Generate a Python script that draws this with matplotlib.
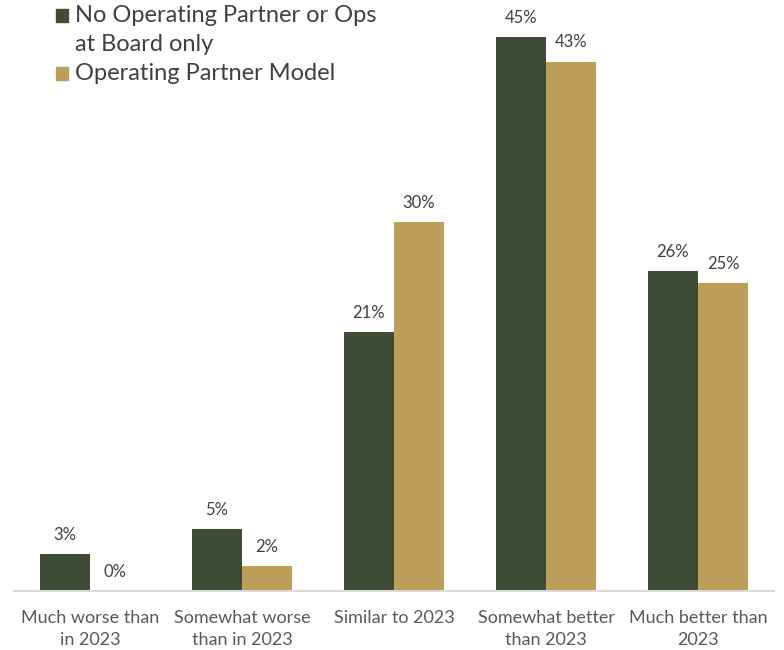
import matplotlib
matplotlib.use("Agg")
import matplotlib.pyplot as plt
from matplotlib.patches import Rectangle
import numpy as np

# ── Data ─────────────────────────────────────────────────────────────────────
categories = [
    "Much worse than\nin 2023",
    "Somewhat worse\nthan in 2023",
    "Similar to 2023",
    "Somewhat better\nthan 2023",
    "Much better than\n2023",
]
no_op_partner = [3, 5, 21, 45, 26]
op_partner = [0, 2, 30, 43, 25]
series_names = ["No Operating Partner or Ops\nat Board only", "Operating Partner Model"]

GREEN = "#3f4c35"
TAN = "#bd9e59"
TEXT = "#404040"
TICK = "#595959"

plt.rcParams["font.family"] = ["Lato", "DejaVu Sans"]

W, H = 784, 650
fig = plt.figure(figsize=(W / 100, H / 100), dpi=100)
ax = fig.add_axes([14 / W, 59 / H, 760 / W, 591 / H])

x = np.arange(len(categories))
w = 0.33
b1 = ax.bar(x - w / 2, no_op_partner, w, color=GREEN)
b2 = ax.bar(x + w / 2, op_partner, w, color=TAN)

for bars, vals in ((b1, no_op_partner), (b2, op_partner)):
    for rect, v in zip(bars, vals):
        ax.annotate(f"{v}%", (rect.get_x() + rect.get_width() / 2, v),
                    xytext=(0, 8), textcoords="offset points",
                    ha="center", va="bottom", fontsize=12, color=TEXT)

ax.set_xlim(-0.5, len(categories) - 0.5)
ax.set_ylim(0, 48)
ax.set_xticks(x)
ax.set_xticklabels(categories, fontsize=13, color=TICK, linespacing=1.45)
ax.tick_params(axis="x", length=0, pad=14)
ax.set_yticks([])
for s in ("top", "right", "left"):
    ax.spines[s].set_visible(False)
ax.spines["bottom"].set_color("#d9d9d9")
ax.spines["bottom"].set_linewidth(1.5)

# legend drawn by hand: square beside the first line of each entry
line_h = 29
first_base = 22
row = 0
for name, col in zip(series_names, (GREEN, TAN)):
    base = first_base + row * line_h
    fig.patches.append(Rectangle((56 / W, 1 - base / H), 12 / W, 13 / H,
                                 transform=fig.transFigure, color=col))
    for line in name.split("\n"):
        fig.text(75 / W, 1 - (first_base + row * line_h) / H, line,
                 fontsize=17, color=TEXT, ha="left", va="baseline")
        row += 1

fig.savefig("out.png", dpi=100, facecolor="white")
